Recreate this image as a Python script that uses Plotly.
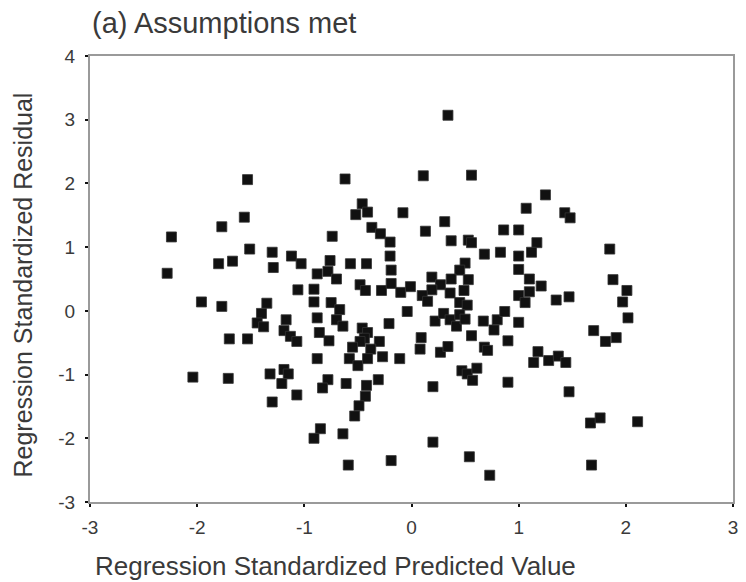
import plotly.graph_objects as go

# Regression standardized predicted values (x) and residuals (y)
pred = [
    -1.53, -1.56, -1.77, -2.24, -1.51, -1.30, -1.12, -1.29, -1.80, -1.67, -2.28,
    0.34, -0.62, 0.11, 0.56, -0.46, -0.52, -0.41, -0.08, 0.31, 0.13, 0.86, 1.00,
    -0.37, -0.29, -0.20, -0.74, 0.37, 0.53, 0.56, 0.68, 0.83, 1.00, -0.20, -1.03,
    -0.76, -0.57, -0.42, -0.19, 0.50, 0.45, 1.00, -0.88, -0.78, 0.19, 0.37,
    1.25, 1.07, 1.43, 1.48, 1.17, 1.12, 1.85, 1.10, 1.88,
    -1.06, -1.96, -1.77, -1.35, -1.40, -1.44, -1.38, -1.17, -1.19, -1.13, -1.07,
    -1.70, -1.53, -2.04, -1.71, -1.32, -1.19, -1.15, -1.21, -1.30, -1.07,
    -0.70, -0.91, -0.91, -0.75, -0.67, -0.48, -0.43, -0.28, -0.19, -0.10, -0.01,
    0.27, 0.53, 0.36, 0.49, 0.45, 0.52, 0.19, 0.10, 0.15, 1.00, -0.04, -0.21,
    -0.88, -0.70, -0.64, -0.86, -0.77, -0.46, -0.41, -0.44, -0.48, -0.30, -0.55,
    -0.38, -0.58, -0.50, -0.41, -0.27, -0.11, -0.88, 0.09, 0.08, 0.27, 0.34,
    0.22, 0.30, 0.36, 0.42, 0.45, 0.50, 0.56, 0.67, 0.77, 0.80, 0.87, 0.90, 1.00,
    0.68, 0.71, 0.47, 0.52, 0.57, 0.61, 0.90, -0.78, -0.83, -0.61, -0.31, -0.42,
    -0.43, -0.49, -0.53, 0.20, -0.85, -0.91, -0.64, 0.20, -0.59, -0.19, 0.54, 0.73,
    1.21, 1.10, 1.06, 1.35, 1.47, 2.01, 1.97, 2.02, 1.70, 1.81, 1.91, 1.18, 1.14,
    1.28, 1.37, 1.44, 1.47, 1.67, 1.76, 2.11, 1.68,
]
resid = [
    2.06, 1.47, 1.32, 1.16, 0.97, 0.92, 0.86, 0.68, 0.74, 0.78, 0.59,
    3.07, 2.07, 2.12, 2.13, 1.68, 1.51, 1.55, 1.54, 1.40, 1.25, 1.27, 1.27,
    1.31, 1.21, 1.08, 1.17, 1.10, 1.11, 1.07, 0.89, 0.92, 0.86, 0.86, 0.74,
    0.79, 0.74, 0.74, 0.64, 0.75, 0.64, 0.65, 0.58, 0.62, 0.53, 0.50,
    1.82, 1.61, 1.54, 1.46, 1.07, 0.92, 0.97, 0.50, 0.49,
    0.33, 0.14, 0.07, 0.12, -0.04, -0.19, -0.25, -0.14, -0.31, -0.40, -0.48,
    -0.44, -0.44, -1.04, -1.06, -0.99, -0.92, -0.99, -1.14, -1.43, -1.32,
    0.50, 0.34, 0.14, 0.13, 0.02, 0.41, 0.32, 0.32, 0.43, 0.29, 0.38,
    0.41, 0.49, 0.28, 0.32, 0.13, 0.09, 0.33, 0.24, 0.15, 0.24, -0.01, -0.20,
    -0.11, -0.14, -0.24, -0.34, -0.47, -0.27, -0.34, -0.43, -0.48, -0.48, -0.57,
    -0.60, -0.75, -0.86, -0.75, -0.72, -0.75, -0.75, -0.42, -0.60, -0.65, -0.56,
    -0.16, -0.04, -0.14, -0.24, -0.06, -0.13, -0.39, -0.16, -0.30, -0.14, -0.01, -0.47, -0.18,
    -0.57, -0.62, -0.94, -0.99, -1.09, -0.90, -1.12, -1.08, -1.21, -1.14, -1.08, -1.17,
    -1.34, -1.49, -1.65, -1.19, -1.85, -2.00, -1.93, -2.06, -2.42, -2.35, -2.29, -2.58,
    0.39, 0.30, 0.13, 0.17, 0.22, 0.32, 0.14, -0.11, -0.31, -0.48, -0.42, -0.64, -0.81,
    -0.78, -0.71, -0.81, -1.27, -1.76, -1.68, -1.74, -2.42,
]

x_ticks = [-3, -2, -1, 0, 1, 2, 3]
y_ticks = [-3, -2, -1, 0, 1, 2, 3, 4]

title_text = "(a) Assumptions met"
x_title = "Regression Standardized Predicted Value"
y_title = "Regression Standardized Residual"

font_family = "Liberation Sans, Arial, sans-serif"
text_color = "#3a3a3a"

W, H = 746, 582
ML, MR, MT, MB = 90, 8, 56, 80
plot_h = H - MT - MB

fig = go.Figure()
fig.add_trace(go.Scatter(
    x=pred, y=resid, mode="markers",
    marker=dict(symbol="square", size=10, color="#111111",
                line=dict(width=0.8, color="#333333")),
    showlegend=False, hoverinfo="skip",
))

axis_common = dict(
    showline=True, mirror=True, linecolor="#9a9a9a", linewidth=2,
    showgrid=False, zeroline=False,
    ticks="outside", ticklen=3, tickwidth=2, tickcolor="#111111",
    tickfont=dict(family=font_family, size=19, color=text_color),
)

fig.update_layout(
    width=W, height=H,
    margin=dict(l=ML, r=MR, t=MT, b=MB),
    paper_bgcolor="white", plot_bgcolor="white",
    font=dict(family=font_family, color=text_color),
    title=dict(text=title_text, x=92 / W, xref="container", xanchor="left",
               y=1 - 23 / H, yanchor="middle", yref="container",
               font=dict(family=font_family, size=29, color=text_color)),
    xaxis=dict(range=[-3, 3], tickvals=x_ticks, ticktext=[str(v) for v in x_ticks],
               ticklabelstandoff=4, **axis_common),
    yaxis=dict(range=[-3, 4], tickvals=y_ticks, ticktext=[str(v) for v in y_ticks],
               ticklabelstandoff=6, **axis_common),
    annotations=[
        dict(text=x_title, xref="paper", yref="paper",
             x=(93 - ML) / (W - ML - MR), xanchor="left",
             y=-(566 - (H - MB)) / plot_h, yanchor="middle",
             showarrow=False,
             font=dict(family=font_family, size=26, color=text_color)),
        dict(text=y_title, xref="paper", yref="paper",
             x=-(ML - 22) / (W - ML - MR), xanchor="center",
             y=((H - MB) - 285) / plot_h, yanchor="middle", textangle=-90,
             showarrow=False,
             font=dict(family=font_family, size=25, color=text_color)),
    ],
)

fig.write_html("out.html")
